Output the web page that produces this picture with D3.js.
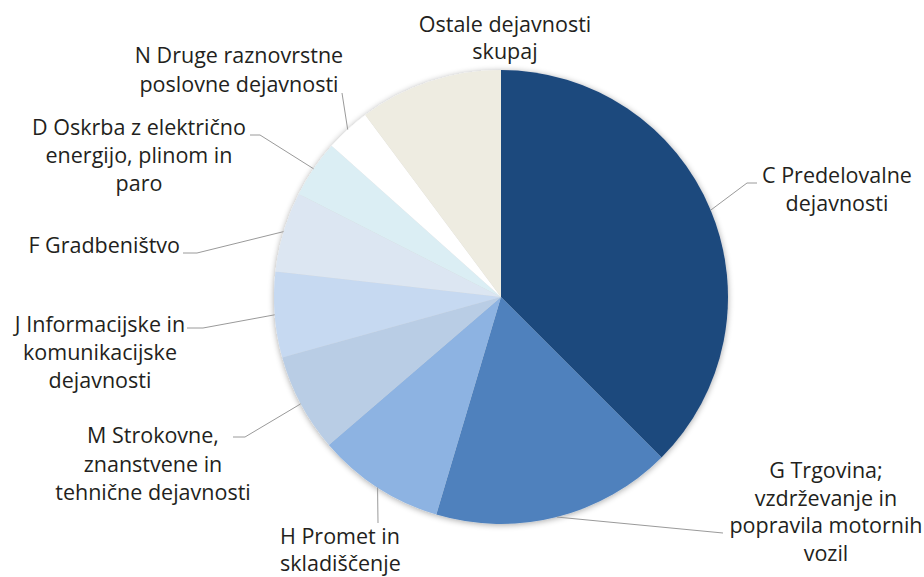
<!DOCTYPE html>
<html>
<head>
<meta charset="utf-8">
<script src="https://cdn.jsdelivr.net/npm/d3@7"></script>
<style>
  html, body { margin: 0; padding: 0; background: #ffffff; }
  svg { display: block; }
  text { font-family: "Open Sans", Lato, sans-serif; font-size: 21.5px; fill: #231f20; }
</style>
</head>
<body>
<svg id="chart" width="924" height="577"></svg>
<script>
// ---- data ----
const categories = [
  "C Predelovalne dejavnosti",
  "G Trgovina; vzdrževanje in popravila motornih vozil",
  "H Promet in skladiščenje",
  "M Strokovne, znanstvene in tehnične dejavnosti",
  "J Informacijske in komunikacijske dejavnosti",
  "F Gradbeništvo",
  "D Oskrba z električno energijo, plinom in paro",
  "N Druge raznovrstne poslovne dejavnosti",
  "Ostale dejavnosti skupaj"
];
const values = [37.5, 17.1, 9.1, 7.0, 6.1, 5.7, 4.1, 3.2, 10.2];
const labelLines = [
  ["C Predelovalne", "dejavnosti"],
  ["G Trgovina;", "vzdrževanje in", "popravila motornih", "vozil"],
  ["H Promet in", "skladiščenje"],
  ["M Strokovne,", "znanstvene in", "tehnične dejavnosti"],
  ["J Informacijske in", "komunikacijske", "dejavnosti"],
  ["F Gradbeništvo"],
  ["D Oskrba z električno", "energijo, plinom in", "paro"],
  ["N Druge raznovrstne", "poslovne dejavnosti"],
  ["Ostale dejavnosti", "skupaj"]
];
const colors = ["#1f497d", "#4f81bd", "#8db3e2", "#b9cde5", "#c6d9f1", "#dce6f2", "#dbeef4", "#ffffff", "#eeece1"];

// ---- layout (positions only) ----
const cx = 501, cy = 297, R = 227;
const labelLayout = [
  { x: 837, y: 183, anchor: "middle", lh: 28, path: [[747, 183], [757, 183]] },
  { x: 826, y: 478, anchor: "middle", lh: 27.5, path: [[723, 533]] },
  { x: 280, y: 544, anchor: "start", lh: 26.5, path: [[378, 523]] },
  { x: 153, y: 443, anchor: "middle", lh: 28.5, path: [[245, 437], [233, 437]] },
  { x: 100, y: 332, anchor: "middle", lh: 28, path: [[203, 328], [187, 328]] },
  { x: 180, y: 253, anchor: "end", lh: 28, path: [[197, 253], [183, 253]] },
  { x: 139, y: 135, anchor: "middle", lh: 28, path: [[260, 135], [250, 135]] },
  { x: 239, y: 63, anchor: "middle", lh: 28.5, path: [[342, 93]] },
  { x: 505, y: 32, anchor: "middle", lh: 26.5, path: null }
];

const svg = d3.select("#chart");
const defs = svg.append("defs");
const f = defs.append("filter").attr("id", "shadow")
  .attr("x", "-20%").attr("y", "-20%").attr("width", "140%").attr("height", "140%");
f.append("feGaussianBlur").attr("in", "SourceAlpha").attr("stdDeviation", 3).attr("result", "b");
f.append("feOffset").attr("in", "b").attr("dx", 0).attr("dy", 1).attr("result", "o");
f.append("feComponentTransfer").attr("in", "o").attr("result", "s")
  .append("feFuncA").attr("type", "linear").attr("slope", 0.35);
const m = f.append("feMerge");
m.append("feMergeNode").attr("in", "s");
m.append("feMergeNode").attr("in", "SourceGraphic");

const pie = d3.pie().sort(null).value(d => d)(values);
const arc = d3.arc().innerRadius(0).outerRadius(R);
const edge = d3.arc().innerRadius(R).outerRadius(R);

const g = svg.append("g").attr("transform", `translate(${cx},${cy})`);
const slices = g.append("g").attr("filter", "url(#shadow)");
slices.selectAll("path").data(pie).join("path")
  .attr("d", arc)
  .attr("fill", (d, i) => colors[i]);

// leader lines
const lines = svg.append("g").attr("fill", "none").attr("stroke", "#9a9a9a").attr("stroke-width", 1);
pie.forEach((d, i) => {
  const L = labelLayout[i];
  if (!L.path) return;
  const [ex, ey] = edge.centroid(d);
  const pts = [[cx + ex, cy + ey]].concat(L.path);
  lines.append("path").attr("d", d3.line()(pts));
});

// labels
const labels = svg.append("g");
labelLines.forEach((ls, i) => {
  const L = labelLayout[i];
  const t = labels.append("text").attr("text-anchor", L.anchor);
  ls.forEach((s, k) => {
    t.append("tspan").attr("x", L.x).attr("y", L.y + k * L.lh).text(s);
  });
});
</script>
</body>
</html>
